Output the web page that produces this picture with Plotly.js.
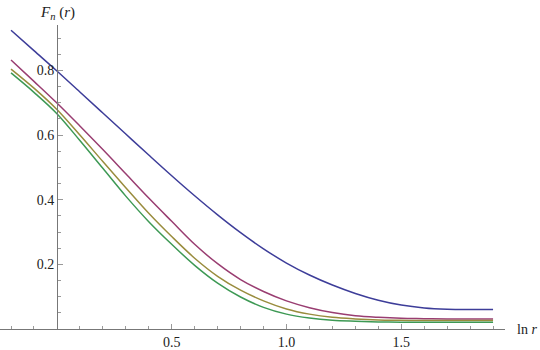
<!DOCTYPE html>
<html>
<head>
<meta charset="utf-8">
<script src="https://cdn.plot.ly/plotly-3.0.1.min.js"></script>
<style>html,body{margin:0;padding:0;background:#fff;}#chart{width:540px;height:350px;}</style>
</head>
<body>
<div id="chart"></div>
<script>
// ln r sample positions
var lnR = [-0.2, -0.1, 0, 0.1, 0.2, 0.3, 0.4, 0.5, 0.6, 0.7, 0.8, 0.9, 1.0, 1.1, 1.2, 1.3, 1.4, 1.5, 1.6, 1.7, 1.8, 1.9];
// F_n(r) for the four curves
var F1 = [0.924, 0.861, 0.798, 0.733, 0.668, 0.603, 0.538, 0.474, 0.412, 0.353, 0.298, 0.248, 0.204, 0.167, 0.136, 0.110, 0.089, 0.074, 0.065, 0.061, 0.060, 0.060];
var F2 = [0.832, 0.766, 0.699, 0.628, 0.555, 0.480, 0.405, 0.333, 0.262, 0.202, 0.153, 0.116, 0.087, 0.066, 0.051, 0.041, 0.036, 0.033, 0.032, 0.031, 0.031, 0.031];
var F3 = [0.804, 0.745, 0.679, 0.600, 0.518, 0.437, 0.358, 0.286, 0.219, 0.163, 0.120, 0.087, 0.062, 0.046, 0.036, 0.031, 0.028, 0.027, 0.026, 0.026, 0.026, 0.026];
var F4 = [0.792, 0.732, 0.666, 0.583, 0.497, 0.411, 0.332, 0.262, 0.197, 0.142, 0.099, 0.067, 0.046, 0.034, 0.027, 0.024, 0.022, 0.021, 0.021, 0.021, 0.021, 0.021];

var xMajor = [0.5, 1.0, 1.5];
var xMajorText = ['0.5', '1.0', '1.5'];
var xMinor = [-0.2, -0.1, 0.1, 0.2, 0.3, 0.4, 0.6, 0.7, 0.8, 0.9, 1.1, 1.2, 1.3, 1.4, 1.6, 1.7, 1.8, 1.9];
var yMajor = [0.2, 0.4, 0.6, 0.8];
var yMajorText = ['0.2', '0.4', '0.6', '0.8'];
var yMinor = [0.05, 0.1, 0.15, 0.25, 0.3, 0.35, 0.45, 0.5, 0.55, 0.65, 0.7, 0.75, 0.85, 0.9];

var colors = ['#3d3d99', '#993d71', '#998c3d', '#3d9954'];
var series = [F1, F2, F3, F4];
var traces = series.map(function (s, i) {
  return {x: lnR, y: s, type: 'scatter', mode: 'lines',
          line: {color: colors[i], width: 1.5, shape: 'spline', smoothing: 1},
          hoverinfo: 'skip', showlegend: false};
});

var serif = '"Liberation Serif", "Times New Roman", serif';
var tickFont = {family: serif, size: 14, color: '#222'};
var layout = {
  width: 540, height: 350,
  font: {family: serif, size: 14, color: '#222'},
  margin: {l: 0, r: 35, t: 25, b: 21, pad: 0},
  paper_bgcolor: '#fff', plot_bgcolor: '#fff',
  showlegend: false,
  xaxis: {
    range: [-0.248, 1.952], showgrid: false, zeroline: false,
    showline: true, linecolor: '#777', linewidth: 1,
    tickmode: 'array', tickvals: xMajor, ticktext: xMajorText,
    ticks: 'inside', ticklen: 5, tickcolor: '#999', tickwidth: 1,
    tickfont: tickFont,
    minor: {tickmode: 'array', tickvals: xMinor, ticks: 'inside', ticklen: 3, tickcolor: '#999', tickwidth: 1, showgrid: false}
  },
  yaxis: {
    range: [0, 0.9403], showgrid: false, zeroline: false,
    anchor: 'free', position: 57 / 505, side: 'left',
    showline: true, linecolor: '#777', linewidth: 1,
    tickmode: 'array', tickvals: yMajor, ticktext: yMajorText,
    ticks: 'inside', ticklen: 5, tickcolor: '#999', tickwidth: 1,
    tickfont: tickFont,
    minor: {tickmode: 'array', tickvals: yMinor, ticks: 'inside', ticklen: 3, tickcolor: '#999', tickwidth: 1, showgrid: false}
  },
  annotations: [
    {xref: 'paper', yref: 'paper', x: 57 / 505, y: 1, xanchor: 'center', yanchor: 'bottom', yshift: 1,
     text: '<i>F</i><sub><i>n</i></sub> (<i>r</i>)', showarrow: false,
     font: {family: serif, size: 15, color: '#222'}},
    {xref: 'paper', yref: 'y', x: 1, y: 0, xanchor: 'left', yanchor: 'middle', xshift: 10,
     text: 'ln <i>r</i>', showarrow: false,
     font: {family: serif, size: 14, color: '#222'}}
  ]
};

Plotly.newPlot('chart', traces, layout, {displayModeBar: false, staticPlot: true});
</script>
</body>
</html>
